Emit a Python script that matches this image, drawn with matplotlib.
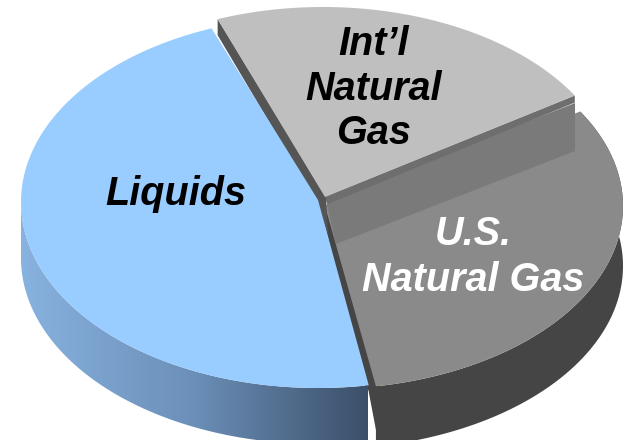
import numpy as np
import matplotlib
matplotlib.use("Agg")
import matplotlib.pyplot as plt
from matplotlib.patches import Polygon

labels = ["Liquids", "U.S.\nNatural Gas", "Int\u2019l\nNatural\nGas"]
shares = [46.9, 30.9, 22.2]
start_angle = 111

plt.rcParams['font.family'] = ['Liberation Sans', 'DejaVu Sans']


def arc(cx, cy, a0, a1, rx=298, ry=183):
    t = np.radians(np.linspace(a0, a1, 200))
    return np.column_stack([cx + rx * np.cos(t), cy - ry * np.sin(t)])


def wall(cx, cy, a0, a1, depth, rx=298, ry=183):
    top = arc(cx, cy, a0, a1, rx, ry)
    return np.vstack([top, top[::-1] + [0, depth]])


sweeps = np.array(shares) * 3.6
liq0 = start_angle
liq1 = liq0 + sweeps[0]
us1 = liq1 + sweeps[1]
intl1 = us1 + sweeps[2]

fig = plt.figure(figsize=(6.25, 4.4), dpi=100)
ax = fig.add_axes([0, 0, 1, 1])
ax.set_xlim(0, 625)
ax.set_ylim(440, 0)
ax.axis('off')

# us slice, outer wall then the inner wall strip
us_c = (325, 206)
ax.add_patch(Polygon(wall(us_c[0], us_c[1], liq1, us1, 60), fc='#454545', ec='none'))
ax.add_patch(Polygon([(368, 388), (382, 386), (382, 446), (379, 446)], fc='#454545', ec='none'))
ax.add_patch(Polygon([(318, 198), (330, 208), (380, 390), (366, 390)], fc='#454545', ec='none'))
ax.add_patch(Polygon(np.vstack([[us_c], arc(us_c[0], us_c[1], liq1, us1)]), fc='#8a8a8a', ec='none'))

# shadow band the int'l slice throws on the us slice
ax.add_patch(Polygon([(326, 200), (575, 103), (575, 151), (336, 244)], fc='#7a7a7a', ec='none'))

# int'l slice
intl_c = (323, 190)
corner = arc(intl_c[0], intl_c[1], us1, us1, 294)[0]
far = arc(intl_c[0], intl_c[1], intl1, intl1, 294)[0]
ax.add_patch(Polygon([corner, corner + [0, 7], (328, 204), (324, 197)], fc='#6e6e6e', ec='none'))
ax.add_patch(Polygon([far, far + [0, 16], (317, 203), (328, 235), (326, 197)], fc='#555555', ec='none'))
ax.add_patch(Polygon(np.vstack([[(325, 197)], arc(intl_c[0], intl_c[1], us1, intl1, 294)]), fc='#bfbfbf', ec='none'))

# liquids slice, wall has a left to right fade
liq_c = (318, 202)
gradient = np.linspace(0, 1, 256).reshape(1, -1)
fade = matplotlib.colors.LinearSegmentedColormap.from_list('fade', ['#88b2df', '#6b8fb8', '#3b4f69'])
im = ax.imshow(gradient, extent=(21, 368, 460, 200), cmap=fade, aspect='auto', zorder=2)
ax.set_xlim(0, 625)
ax.set_ylim(440, 0)
side = Polygon(wall(liq_c[0], liq_c[1], 180, liq1, 56, 297, 186), transform=ax.transData, fc='none', ec='none')
ax.add_patch(side)
im.set_clip_path(side)
ax.add_patch(Polygon(np.vstack([[(318, 200)], arc(liq_c[0], liq_c[1], liq0, liq1, 297, 186)]), fc='#99ccff', ec='none', zorder=3))

ax.text(176, 194, labels[0], ha='center', va='center', fontsize=28.5, fontweight='bold', fontstyle='italic', color='black', zorder=4)
ax.text(473, 257, labels[1], ha='center', va='center', fontsize=28.5, fontweight='bold', fontstyle='italic', color='white', zorder=4, linespacing=1.27)
ax.text(374, 88.5, labels[2], ha='center', va='center', fontsize=28.5, fontweight='bold', fontstyle='italic', color='black', zorder=4, linespacing=1.23)

fig.savefig('out.png', dpi=100)
